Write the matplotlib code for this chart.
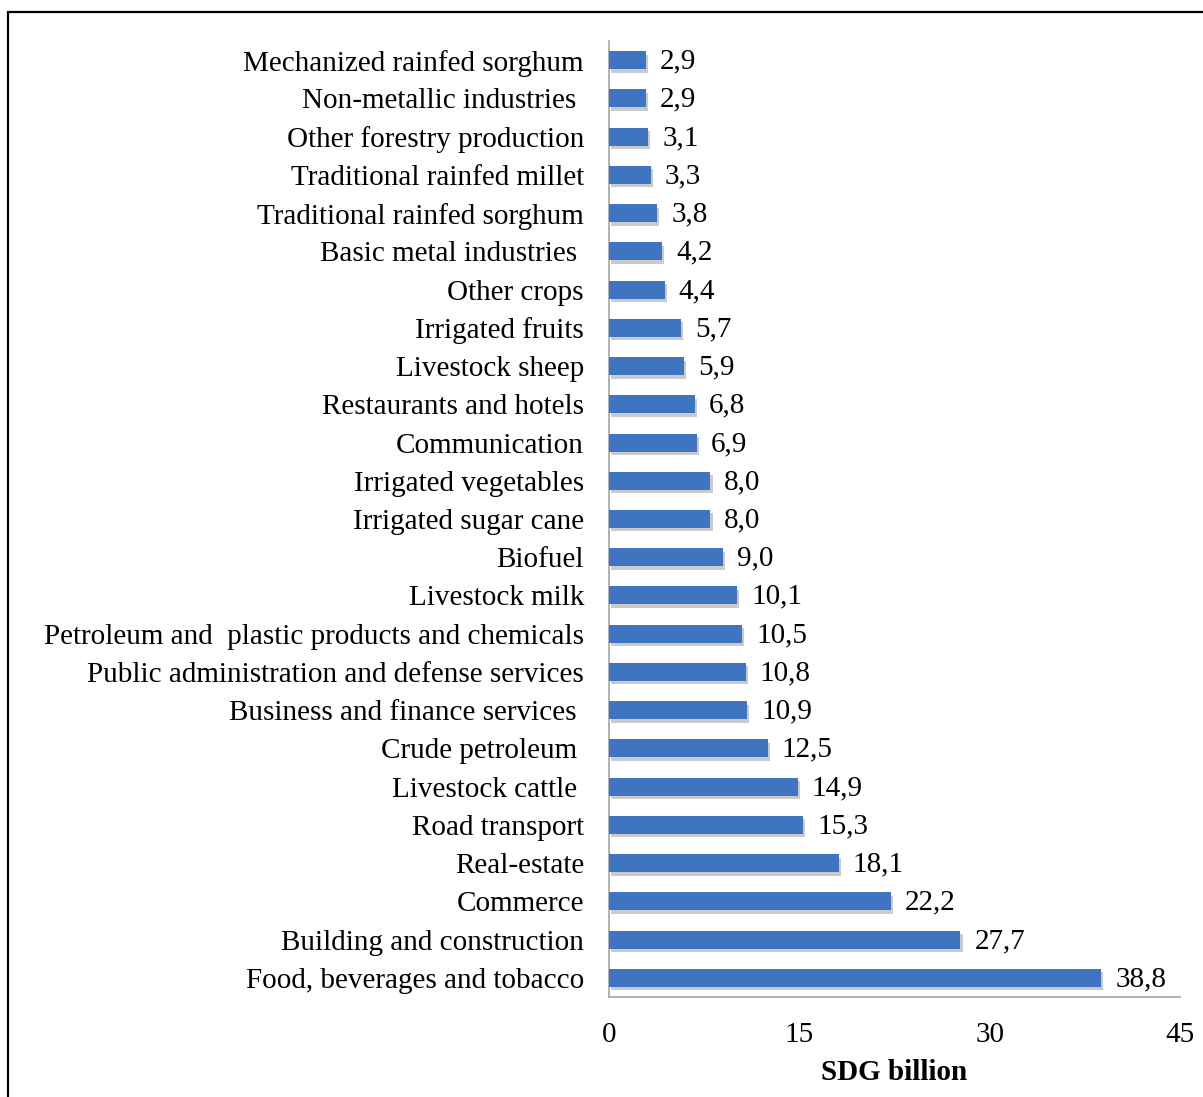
import matplotlib.pyplot as plt
import matplotlib.patheffects as pe
from matplotlib.patches import Rectangle

# activities, listed top to bottom as in the chart
activities = [
    "Mechanized rainfed sorghum",
    "Non-metallic industries ",
    "Other forestry production",
    "Traditional rainfed millet",
    "Traditional rainfed sorghum",
    "Basic metal industries ",
    "Other crops",
    "Irrigated fruits",
    "Livestock sheep",
    "Restaurants and hotels",
    "Communication",
    "Irrigated vegetables",
    "Irrigated sugar cane",
    "Biofuel",
    "Livestock milk",
    "Petroleum and  plastic products and chemicals",
    "Public administration and defense services",
    "Business and finance services ",
    "Crude petroleum ",
    "Livestock cattle ",
    "Road transport",
    "Real-estate",
    "Commerce",
    "Building and construction",
    "Food, beverages and tobacco",
]
values = [2.9, 2.9, 3.1, 3.3, 3.8, 4.2, 4.4, 5.7, 5.9, 6.8, 6.9, 8.0, 8.0, 9.0,
          10.1, 10.5, 10.8, 10.9, 12.5, 14.9, 15.3, 18.1, 22.2, 27.7, 38.8]
xticks = [0, 15, 30, 45]

plt.rcParams['font.family'] = ['Liberation Serif', 'DejaVu Serif']
FS = 21

fig = plt.figure(figsize=(12.03, 10.97), dpi=100)
fig.patches.append(Rectangle((0.0067, -0.1), 1.1, 1.089, transform=fig.transFigure,
                             fill=False, edgecolor='black', linewidth=1.6))

ax = fig.add_axes([0.5062, 0.0912, 0.4747, 0.8714])
pos = list(range(len(activities)))[::-1]
bars = ax.barh(pos, values, height=0.47, color='#3f75c0', zorder=3)
for b in bars:
    b.set_path_effects([pe.SimplePatchShadow(offset=(1.5, -2.5), shadow_rgbFace='#a0a0a0', alpha=0.55),
                        pe.Normal()])

for p, v in zip(pos, values):
    ax.annotate(f"{v:.1f}".replace('.', ','), (v, p), xytext=(10, -1),
                textcoords='offset points', va='center', ha='left', fontsize=FS)

ax.set_xlim(0, 45)
ax.set_ylim(-0.5, len(activities) - 0.5)
ax.set_yticks(pos)
ax.set_yticklabels(activities, fontsize=FS)
ax.set_xticks(xticks)
ax.set_xticklabels([str(t) for t in xticks], fontsize=FS)
ax.tick_params(axis='y', length=0, pad=18)
ax.tick_params(axis='x', length=0, pad=18)
ax.set_xlabel('SDG billion', fontsize=FS, fontweight='bold', labelpad=8)

for s in ['top', 'right']:
    ax.spines[s].set_visible(False)
for s in ['left', 'bottom']:
    ax.spines[s].set_color('#a6a6a6')
    ax.spines[s].set_linewidth(1.2)

fig.savefig('out.png', dpi=100)
